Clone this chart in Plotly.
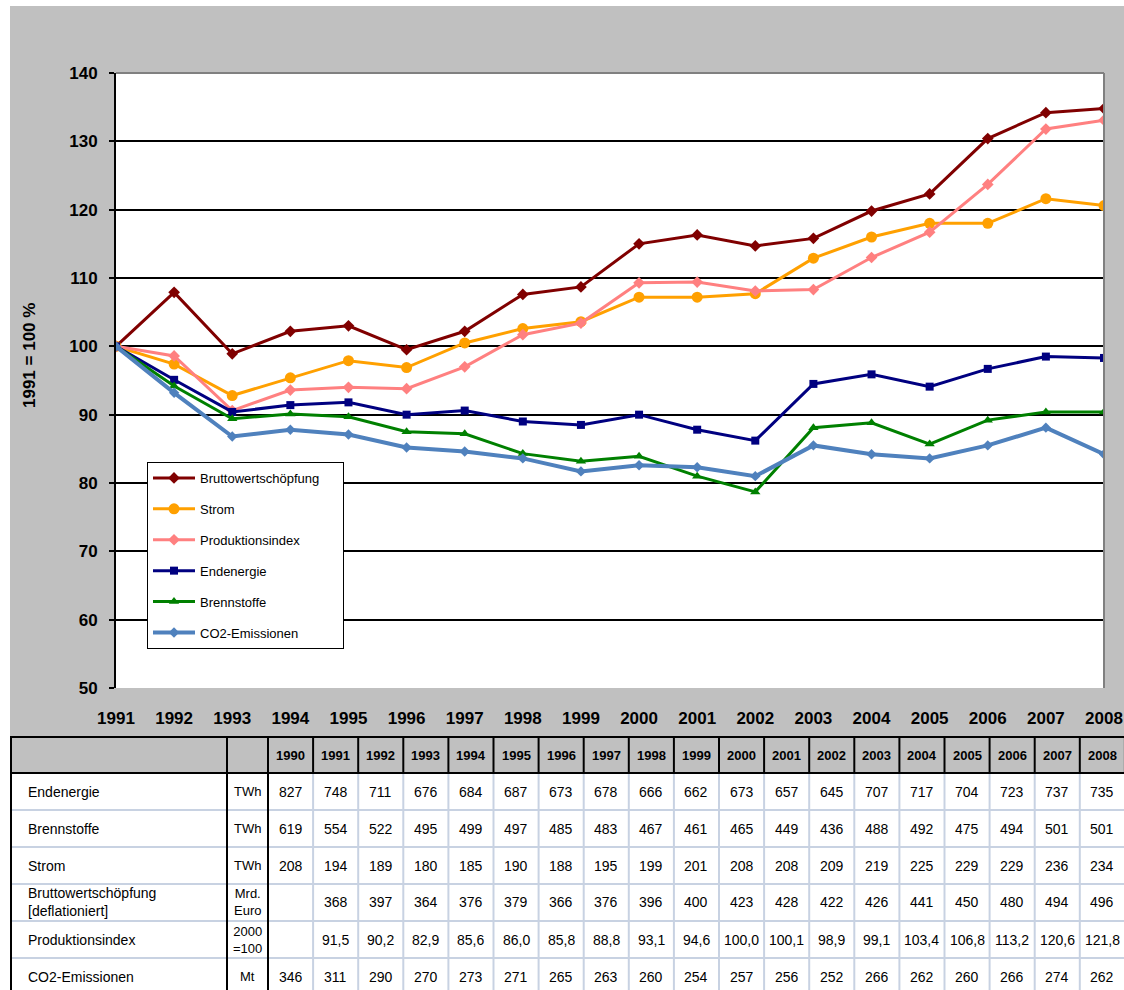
import plotly.graph_objects as go

# ── Chart data (index, 1991 = 100) ───────────────────────────────────────────
years = list(range(1991, 2009))

bws_idx = [100, 107.9, 98.9, 102.2, 103.0, 99.5, 102.2, 107.6, 108.7, 115.0, 116.3, 114.7,
           115.8, 119.8, 122.3, 130.4, 134.2, 134.8]
strom_idx = [100, 97.4, 92.8, 95.4, 97.9, 96.9, 100.5, 102.6, 103.6, 107.2, 107.2, 107.7,
             112.9, 116.0, 118.0, 118.0, 121.6, 120.6]
prod_idx = [100, 98.6, 90.6, 93.6, 94.0, 93.8, 97.0, 101.7, 103.4, 109.3, 109.4, 108.1,
            108.3, 113.0, 116.7, 123.7, 131.8, 133.1]
ende_idx = [100, 95.1, 90.4, 91.4, 91.8, 90.0, 90.6, 89.0, 88.5, 90.0, 87.8, 86.2,
            94.5, 95.9, 94.1, 96.7, 98.5, 98.3]
brenn_idx = [100, 94.2, 89.4, 90.1, 89.7, 87.5, 87.2, 84.3, 83.2, 83.9, 81.0, 78.7,
             88.1, 88.8, 85.7, 89.2, 90.4, 90.4]
co2_idx = [100, 93.2, 86.8, 87.8, 87.1, 85.2, 84.6, 83.6, 81.7, 82.6, 82.3, 81.0,
           85.5, 84.2, 83.6, 85.5, 88.1, 84.2]

# ── Table data ───────────────────────────────────────────────────────────────
tab_years = list(range(1990, 2009))
tab_labels = ["Endenergie", "Brennstoffe", "Strom", "Bruttowertschöpfung<br>[deflationiert]",
              "Produktionsindex", "CO2-Emissionen"]
tab_units = ["TWh", "TWh", "TWh", "Mrd.<br>Euro", "2000<br>=100", "Mt"]
row_ende = [827, 748, 711, 676, 684, 687, 673, 678, 666, 662, 673, 657, 645, 707, 717, 704, 723, 737, 735]
row_brenn = [619, 554, 522, 495, 499, 497, 485, 483, 467, 461, 465, 449, 436, 488, 492, 475, 494, 501, 501]
row_strom = [208, 194, 189, 180, 185, 190, 188, 195, 199, 201, 208, 208, 209, 219, 225, 229, 229, 236, 234]
row_bws = ["", 368, 397, 364, 376, 379, 366, 376, 396, 400, 423, 428, 422, 426, 441, 450, 480, 494, 496]
row_prod = ["", "91,5", "90,2", "82,9", "85,6", "86,0", "85,8", "88,8", "93,1", "94,6", "100,0",
            "100,1", "98,9", "99,1", "103,4", "106,8", "113,2", "120,6", "121,8"]
row_co2 = [346, 311, 290, 270, 273, 271, 265, 263, 260, 254, 257, 256, 252, 266, 262, 260, 266, 274, 262]
tab_rows = [row_ende, row_brenn, row_strom, row_bws, row_prod, row_co2]

FONT = "Arial, Liberation Sans, sans-serif"
W, H = 1124, 990
L, R, T, B = 116, 1104, 73, 688  # plot area in pixels


def px_x(p):
    return (p - L) / (R - L)


def px_y(p):
    return (B - p) / (B - T)


series = [
    ("Bruttowertschöpfung", bws_idx, "#800000", "diamond", 9, 3),
    ("Strom", strom_idx, "#FFA000", "circle", 11, 3),
    ("Produktionsindex", prod_idx, "#FF8080", "diamond", 9, 3),
    ("Endenergie", ende_idx, "#000080", "square", 8, 3),
    ("Brennstoffe", brenn_idx, "#008000", "triangle-up", 9, 3),
    ("CO2-Emissionen", co2_idx, "#4F81BD", "diamond", 8, 4),
]

fig = go.Figure()
for i, (name, vals, col, sym, sz, lw) in enumerate(series):
    # pad the longest entry so the legend box gets the reference width
    label = name + "\u00a0" * 5 if i == 0 else name
    fig.add_trace(go.Scatter(
        x=years, y=vals, name=label, mode="lines+markers", legendgroup=f"g{i}",
        line=dict(color=col, width=lw),
        marker=dict(symbol=sym, size=sz, color=col),
    ))

shapes = [
    # grey chart background + white plot area
    dict(type="rect", xref="paper", yref="paper", layer="below",
         x0=px_x(10), x1=px_x(W), y0=px_y(737), y1=px_y(6),
         fillcolor="#C0C0C0", line_width=0),
    dict(type="rect", xref="paper", yref="paper", layer="below",
         x0=0, x1=1, y0=0, y1=1, fillcolor="white", line_width=0),
    # grey plot border top/right
    dict(type="line", xref="paper", yref="paper", x0=0, x1=1, y0=1, y1=1,
         line=dict(color="#808080", width=2)),
    dict(type="line", xref="paper", yref="paper", x0=1, x1=1, y0=0, y1=1,
         line=dict(color="#808080", width=2)),
]

# ── Table drawn with shapes + annotations ────────────────────────────────────
tx0, tx_lab, tx_unit = 10, 227, 268
cw = 45.1
ty0, ty_head = 737, 773
rh = 37
ty_end = 995
LIGHT = "#C8D2E2"

shapes.append(dict(type="rect", xref="paper", yref="paper", x0=px_x(tx0), x1=px_x(W),
                   y0=px_y(ty_head), y1=px_y(ty0), fillcolor="#C0C0C0", line_width=0))
# light inner grid
for j in range(1, len(tab_years)):
    xx = tx_unit + j * cw
    shapes.append(dict(type="line", xref="paper", yref="paper", x0=px_x(xx), x1=px_x(xx),
                       y0=px_y(ty_end), y1=px_y(ty_head), line=dict(color=LIGHT, width=2)))
for r in range(1, len(tab_rows)):
    yy = ty_head + r * rh
    shapes.append(dict(type="line", xref="paper", yref="paper", x0=px_x(tx0), x1=px_x(W),
                       y0=px_y(yy), y1=px_y(yy), line=dict(color=LIGHT, width=2)))
# black header grid and frame
for j in range(0, len(tab_years) + 1):
    xx = tx_unit + j * cw
    shapes.append(dict(type="line", xref="paper", yref="paper", x0=px_x(xx), x1=px_x(xx),
                       y0=px_y(ty_head), y1=px_y(ty0), line=dict(color="black", width=2)))
for xx in (tx0 + 1, tx_lab, tx_unit):
    shapes.append(dict(type="line", xref="paper", yref="paper", x0=px_x(xx), x1=px_x(xx),
                       y0=px_y(ty_end), y1=px_y(ty0), line=dict(color="black", width=2)))
for yy in (ty0, ty_head):
    shapes.append(dict(type="line", xref="paper", yref="paper", x0=px_x(tx0), x1=px_x(W),
                       y0=px_y(yy), y1=px_y(yy), line=dict(color="black", width=2)))


def note(text, x, y, size, xanchor="center", **kw):
    return dict(text=text, xref="paper", yref="paper", x=x, y=y, xanchor=xanchor,
                yanchor="middle", showarrow=False,
                font=dict(size=size, color="black", family=FONT), **kw)


annotations = [note("<b>1991 = 100 %</b>", px_x(29), px_y(356), 17, textangle=-90)]
for j, yr in enumerate(tab_years):
    annotations.append(note(f"<b>{yr}</b>", px_x(tx_unit + (j + 0.5) * cw),
                            px_y((ty0 + ty_head) / 2), 13))
for r, (lab, unit, vals) in enumerate(zip(tab_labels, tab_units, tab_rows)):
    yc = px_y(ty_head + (r + 0.5) * rh)
    annotations.append(note(lab, px_x(26), yc, 14, xanchor="left", align="left"))
    annotations.append(note(unit, px_x((tx_lab + tx_unit) / 2), yc, 13))
    for j, v in enumerate(vals):
        if v == "":
            continue
        annotations.append(note(str(v), px_x(tx_unit + (j + 0.5) * cw), yc, 14))

fig.update_layout(
    width=W, height=H,
    margin=dict(l=L, r=W - R, t=T, b=H - B, autoexpand=False),
    paper_bgcolor="white", plot_bgcolor="rgba(0,0,0,0)",
    font=dict(family=FONT, color="black"),
    showlegend=True,
    legend=dict(x=px_x(147), y=px_y(462), xanchor="left", yanchor="top",
                bgcolor="white", bordercolor="black", borderwidth=1,
                font=dict(size=13, family=FONT), tracegroupgap=11,
                itemwidth=42),
    xaxis=dict(range=[1991, 2008], dtick=1, tick0=1991, showgrid=False, zeroline=False,
               showline=False, ticks="", ticklabelstandoff=18,
               tickfont=dict(size=17, family=FONT), tickprefix="<b>", ticksuffix="</b>"),
    yaxis=dict(range=[50, 140], dtick=10, showgrid=True, gridcolor="black", gridwidth=2,
               zeroline=False, showline=True, linecolor="black", linewidth=2,
               ticks="outside", ticklen=5, tickwidth=2, tickcolor="black",
               ticklabelstandoff=8,
               tickfont=dict(size=17, family=FONT), tickprefix="<b>", ticksuffix="</b>"),
    shapes=shapes,
    annotations=annotations,
)

# drop the default 8px page margin so the figure sits at the window's corner
fig.write_html("out.html", config={"displayModeBar": False},
               post_script="document.body.style.margin='0px';")
